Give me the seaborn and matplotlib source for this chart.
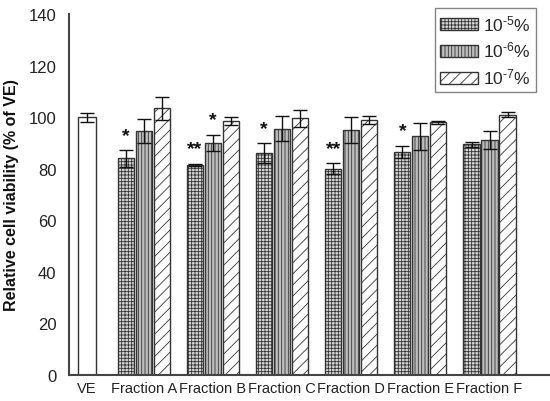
import matplotlib
matplotlib.use("Agg")
import matplotlib.pyplot as plt
import seaborn as sns
import pandas as pd
import numpy as np

# ---- data ----
fractions = ["Fraction A", "Fraction B", "Fraction C", "Fraction D", "Fraction E", "Fraction F"]
categories = ["VE"] + fractions
concentrations = [r"10$^{\text{-5}}$%", r"10$^{\text{-6}}$%", r"10$^{\text{-7}}$%"]
ve_mean = [100.0]
ve_sd = [1.8]
mean_1e5 = [84.0, 81.5, 86.0, 80.0, 86.5, 89.5]
sd_1e5 = [3.2, 0.4, 3.8, 2.2, 2.5, 1.0]
mean_1e6 = [94.5, 90.0, 95.5, 95.0, 92.5, 91.0]
sd_1e6 = [4.6, 3.2, 4.8, 5.0, 5.2, 3.5]
mean_1e7 = [103.5, 98.5, 99.5, 99.0, 98.0, 101.0]
sd_1e7 = [4.5, 1.4, 3.2, 1.5, 0.6, 1.0]
stars_1e5 = ["*", "**", "*", "**", "*", ""]
stars_1e6 = ["", "*", "", "", "", ""]
stars_1e7 = ["", "", "", "", "", ""]
y_ticks = [0, 20, 40, 60, 80, 100, 120, 140]

means = [mean_1e5, mean_1e6, mean_1e7]
sds = [sd_1e5, sd_1e6, sd_1e7]
stars = [stars_1e5, stars_1e6, stars_1e7]

df = pd.DataFrame({
    "group": fractions * 3,
    "conc": sum([[c] * len(fractions) for c in concentrations], []),
    "value": sum(means, []),
})
df_ve = pd.DataFrame({"group": ["VE"], "value": ve_mean})

# ---- style ----
sns.set_theme(style="white")
plt.rcParams["font.family"] = ["Liberation Sans", "DejaVu Sans"]
plt.rcParams["mathtext.fontset"] = "custom"
plt.rcParams["mathtext.rm"] = "Liberation Sans"
plt.rcParams["mathtext.it"] = "Liberation Sans"
plt.rcParams["hatch.linewidth"] = 0.6

fig = plt.figure(figsize=(5.5, 4.02), dpi=100)
ax = fig.add_axes([69 / 550, 26 / 402, (549 - 69) / 550, (376 - 15) / 402])

edge = "#333333"
face_colors = ["#d6d6d6", "#bdbdbd", "#ffffff"]
hatches = ["+++++", "|||||", "///"]

# VE bar
sns.barplot(data=df_ve, x="group", y="value", order=categories, color="white",
            width=0.25, edgecolor=edge, linewidth=1.0, errorbar=None, ax=ax)
n_ve_cont = len(ax.containers)
ve_patches = [p for c in ax.containers for p in c if p.get_height() > 0]

# Fraction bars
sns.barplot(data=df, x="group", y="value", hue="conc", order=categories,
            hue_order=concentrations, width=0.78, gap=0.1, errorbar=None,
            edgecolor=edge, linewidth=1.0, ax=ax, legend=True)
hue_conts = list(ax.containers[n_ve_cont:])

# shift VE slightly right (reference spacing)
ve_shift = 0.18
for p in ve_patches:
    p.set_x(p.get_x() + ve_shift)
    p.set_facecolor("white")

# style the hue containers
for i, cont in enumerate(hue_conts):
    for p in cont:
        p.set_facecolor(face_colors[i])
        p.set_hatch(hatches[i])
        p.set_edgecolor(edge)

# error bars
for p, sd in zip(ve_patches, ve_sd):
    cx = p.get_x() + p.get_width() / 2
    ax.errorbar(cx, p.get_height(), yerr=sd, color="#111111", lw=1.0,
                capsize=5, capthick=1.0, fmt="none", zorder=5)
for i, cont in enumerate(hue_conts):
    bars = [p for p in cont if p.get_height() > 0]
    for p, sd, st in zip(bars, sds[i], stars[i]):
        cx = p.get_x() + p.get_width() / 2
        top = p.get_height()
        ax.errorbar(cx, top, yerr=sd, color="#111111", lw=1.0,
                    capsize=5, capthick=1.0, fmt="none", zorder=5)
        if st:
            ax.text(cx, top + sd + 2.5, st, ha="center", va="bottom",
                    fontsize=14, fontweight="bold", color="#111111")

ax.set_ylim(0, 140)
ax.set_yticks(y_ticks)
ax.set_xlim(-0.08, 6.86)
ticks = list(range(len(categories)))
ticks[0] = ve_shift
ax.set_xticks(ticks)
ax.set_xticklabels(categories)
ax.tick_params(axis="x", length=0, labelsize=10.5, colors="#222222", pad=4)
ax.tick_params(axis="y", length=0, labelsize=12, colors="#222222", pad=9)
ax.set_xlabel("")
ax.set_ylabel("Relative cell viability (% of VE)", fontsize=11.5,
              fontweight="bold", color="#111111", labelpad=7)
for s in ["top", "right"]:
    ax.spines[s].set_visible(False)
for s in ["left", "bottom"]:
    ax.spines[s].set_color("#444444")
    ax.spines[s].set_linewidth(1.5)

leg = ax.legend(loc="upper right", bbox_to_anchor=(0.973, 1.017), frameon=True,
                fancybox=False, edgecolor="#666666", fontsize=12.5,
                handlelength=2.2, handleheight=0.7, handletextpad=0.3,
                labelspacing=0.4, borderpad=0.3, borderaxespad=0.0)
leg.get_frame().set_linewidth(1.0)
for h, fc, ht in zip(leg.legend_handles, face_colors, hatches):
    h.set_facecolor(fc)
    h.set_hatch(ht)
    h.set_edgecolor(edge)

fig.savefig("out.png", dpi=100)
